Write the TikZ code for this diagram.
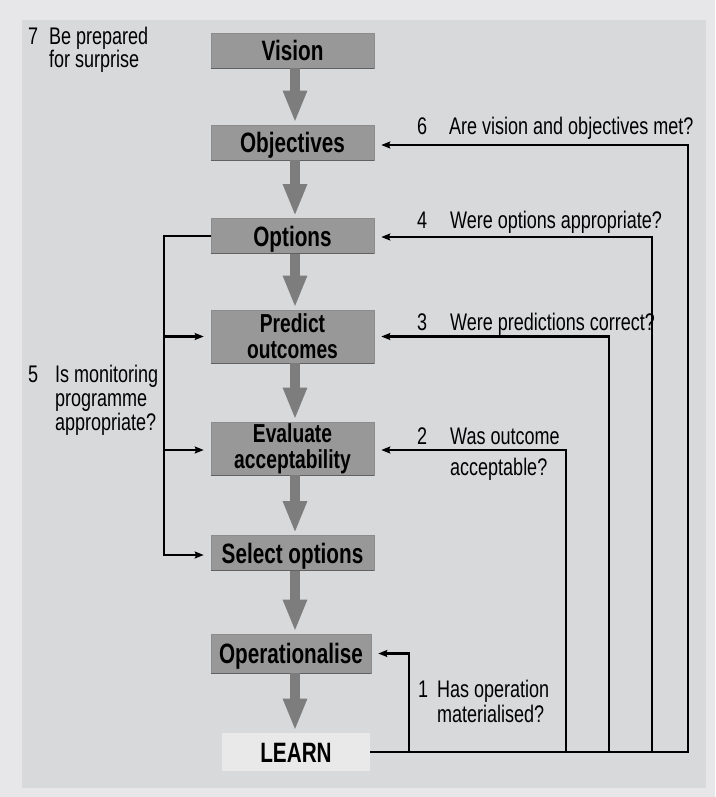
\documentclass[tikz,border=0pt]{standalone}
\usepackage{fontspec}
\setmainfont{Liberation Sans}
\newfontfamily\lblfont[FakeStretch=0.75]{Liberation Sans}
\newfontfamily\boxfontfam[FakeStretch=0.74]{Liberation Sans}
\usetikzlibrary{arrows.meta,calc}
\definecolor{outerbg}{RGB}{231,231,233}
\definecolor{innerbg}{RGB}{216,217,219}
\definecolor{boxfill}{RGB}{152,152,152}
\definecolor{flowgray}{RGB}{125,125,125}
\definecolor{learnfill}{RGB}{233,233,234}
\begin{document}
\begin{tikzpicture}[x=1pt,y=-1pt,
 stepbox/.style={rectangle, fill=boxfill, draw=black!45, line width=0.6pt, minimum width=163pt, inner sep=0pt,
   font=\boxfontfam\bfseries\fontsize{28}{24}\selectfont, align=center},
 onebox/.style={stepbox, minimum height=35pt, text height=20pt, text depth=0pt},
 twobox/.style={stepbox, minimum height=53pt, font=\boxfontfam\bfseries\fontsize{26}{26}\selectfont},
 boxedge/.style={black!62, line width=1.3pt},
 flow/.style={draw=flowgray, line width=10pt, -{Triangle[length=32pt,width=22pt]}, shorten >=2pt},
 fb/.style={line width=2.6pt, black},
 fbarrow/.style={fb, -{Stealth[length=9pt,width=7pt,inset=1.5pt]}, shorten >=7pt},
 lbl/.style={anchor=base west, inner sep=0pt, font=\lblfont\fontsize{24}{24}\selectfont}]
\useasboundingbox (0,0) rectangle (715,797);
\fill[outerbg] (0,0) rectangle (715,797);
\fill[innerbg] (22,20) rectangle (706,788);

% process boxes
\node[onebox] (vis) at (292.5,50.5) {Vision};
\node[onebox] (obj) at (292.5,142.5) {Objectives};
\node[onebox] (opt) at (292.5,236) {Options};
\node[twobox] (pre) at (292.5,336.5) {Predict\\outcomes};
\node[twobox] (eva) at (292.5,448.5) {Evaluate\\acceptability};
\node[onebox] (sel) at (292.5,553) {Select options};
\node[onebox, minimum width=160pt, minimum height=39pt] (ope) at (291,653.5) {Operationalise};
\node[onebox, fill=learnfill, draw=none, minimum width=148pt, minimum height=38pt] (lea) at (296,752) {LEARN};

\foreach \b in {vis,obj,opt,pre,eva,sel,ope}
  \draw[boxedge] (\b.south west) -- (\b.south east);

% main flow arrows
\coordinate (ax) at (295,0);
\foreach \a/\b in {vis/obj,obj/opt,opt/pre,pre/eva,eva/sel,sel/ope,ope/lea}
  \draw[flow] (\a.south -| ax) -- (\b.north -| ax);

% arrow entry points
\coordinate (objR) at ([yshift=-2.5pt]obj.east);
\coordinate (optR) at ([yshift=-1pt]opt.east);
\coordinate (evaR) at ([yshift=-1.5pt]eva.east);
\coordinate (evaL) at ([yshift=-1.5pt]eva.west);
\coordinate (selL) at ([yshift=-2pt]sel.west);

% feedback loops on the right
\coordinate (r1) at (409,0);
\coordinate (r2) at (566,0);
\coordinate (r3) at (609,0);
\coordinate (r4) at (652,0);
\coordinate (r6) at (688,0);
\draw[fbarrow] (lea.east) -- (r6 |- lea.east) |- (objR);
\draw[fbarrow] (r4 |- lea.east) |- (optR);
\draw[fbarrow] (r3 |- lea.east) |- (pre.east);
\draw[fbarrow] (r2 |- lea.east) |- (evaR);
\draw[fbarrow] (r1 |- lea.east) |- (ope.east);

% monitoring loop on the left
\coordinate (l) at (164,0);
\draw[fbarrow] (opt.west) -| (l |- selL) -- (selL);
\draw[fbarrow] (l |- pre.west) -- (pre.west);
\draw[fbarrow] (l |- evaL) -- (evaL);

% labels
\node[lbl] (n7) at (28,45) {7};
\node[lbl] (t7a) at (49,45) {Be prepared};
\node[lbl] (t7b) at (49,68) {for surprise};

\node[lbl] (n6) at (417,134) {6};
\node[lbl] (t6) at (449,134) {Are vision and objectives met?};

\node[lbl] (n4) at (417,228) {4};
\node[lbl] (t4) at (450,228) {Were options appropriate?};

\node[lbl] (n3) at (417,330) {3};
\node[lbl] (t3) at (450,330) {Were predictions correct?};

\node[lbl] (n2) at (417,444) {2};
\node[lbl] (t2a) at (450,444) {Was outcome};
\node[lbl] (t2b) at (450,475) {acceptable?};

\node[lbl] (n5) at (28,382) {5};
\node[lbl] (t5a) at (55,382) {Is monitoring};
\node[lbl] (t5b) at (55,406) {programme};
\node[lbl] (t5c) at (55,430) {appropriate?};

\node[lbl] (n1) at (418,697) {1};
\node[lbl] (t1a) at (437,697) {Has operation};
\node[lbl] (t1b) at (437,722) {materialised?};
\end{tikzpicture}
\end{document}
